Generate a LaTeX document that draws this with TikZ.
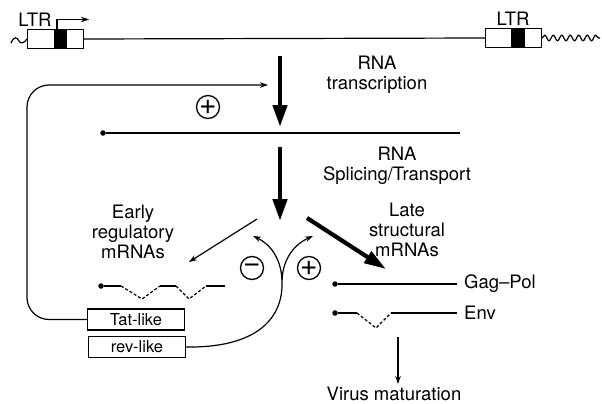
\documentclass[tikz,border=0pt]{standalone}
\usepackage{fontspec}
\setmainfont{TeX Gyre Heros}
\usetikzlibrary{arrows.meta,decorations.pathmorphing,calc}
\begin{document}
\begin{tikzpicture}[x=1pt,y=-1pt,
  thinline/.style={line width=1.2pt},
  thickarrow/.style={line width=4.5pt,-{Triangle[length=22pt,width=14pt]}},
  smallarrow/.style={line width=1.2pt,-{Stealth[length=8pt,width=5.5pt]}},
  lbl/.style={font=\fontsize{18.5}{20}\selectfont,align=center,inner sep=0pt},
  sign/.style={circle,draw,line width=1.3pt,minimum size=23pt,inner sep=0pt,font=\fontsize{30}{30}\selectfont},
  genebox/.style={draw,line width=1.2pt,minimum width=97pt,minimum height=21pt,inner sep=0pt,font=\fontsize{16.5}{18}\selectfont},
  ltrbox/.style={draw,line width=1.2pt,minimum width=56pt,minimum height=19pt,inner sep=0pt},
  dotstart/.style={circle,fill,inner sep=0pt,minimum size=5.5pt},
  spliced/.style={line width=1.2pt,dash pattern=on 3pt off 2pt}
]
\useasboundingbox (0,0) rectangle (602,404);

% genome with LTRs
\node[ltrbox] (ltrL) at (55.5,39) {};
\node[ltrbox] (ltrR) at (513.5,38) {};
\fill ($(ltrL.north west)+(27,0)$) rectangle ++(13,19);
\fill ($(ltrR.north west)+(26,0)$) rectangle ++(14,19);
\node[lbl,anchor=south] (ltrLt) at (35,27) {LTR};
\node[lbl,anchor=south] (ltrRt) at (513,26) {LTR};
\draw[thinline] (ltrL.east) -- (ltrR.west);
\coordinate (tl0) at (11,43);
\draw[thinline] (tl0) .. controls (14,36) and (17,37) .. (19,41) .. controls (21,45) and (25,42) .. (ltrL.west);
\coordinate (wz) at (600,38);
\draw[thinline,decorate,decoration={snake,segment length=8.5pt,amplitude=2.8pt}] (ltrR.east) -- (wz);
\coordinate (pr0) at (57,29.5);
\coordinate (pr1) at (89,19.5);
\draw[smallarrow] (pr0) |- (pr1);

% transcription
\coordinate (a1s) at (280,56);
\coordinate (a1e) at (280,127);
\draw[thickarrow] (a1s) -- (a1e);
\node[lbl] (tx) at (377,75) {RNA\\transcription};

% primary transcript
\node[dotstart] (rna0) at (103,133) {};
\coordinate (rna1) at (460,133);
\draw[thinline] (rna0) -- (rna1);

% splicing
\coordinate (a2s) at (280,147);
\coordinate (a2e) at (280,221);
\draw[thickarrow] (a2s) -- (a2e);
\node[lbl] (sp) at (397,166) {RNA\\Splicing/Transport};

% early / late
\node[lbl] (early) at (133,232) {Early\\regulatory\\mRNAs};
\node[lbl] (late) at (407,230) {Late\\structural\\mRNAs};
\coordinate (ea0) at (257,219);
\coordinate (ea1) at (189,262);
\draw[smallarrow] (ea0) -- (ea1);
\coordinate (la0) at (307,218);
\coordinate (la1) at (386,269);
\draw[line width=4.2pt,-{Triangle[length=22pt,width=13pt]}] (la0) -- (la1);

% early mRNA
\node[dotstart] (em0) at (101,286) {};
\draw[thinline] (em0) -- (121,286);
\draw[spliced] (121,286) -- (142,299) -- (160,286);
\draw[thinline] (160,286) -- (176,286);
\draw[spliced] (176,286) -- (189,299) -- (206,286);
\draw[thinline] (206,286) -- (225,286);

% late mRNAs
\node[dotstart] (gp0) at (335,284) {};
\coordinate (gp1) at (457,284);
\draw[thinline] (gp0) -- (gp1);
\node[lbl,anchor=west] (gag) at (464,284) {Gag–Pol};
\node[dotstart] (env0) at (335,313) {};
\draw[thinline] (env0) -- (357,313);
\draw[spliced] (357,313) -- (376,328) -- (391,313);
\coordinate (env1) at (457,313);
\draw[thinline] (391,313) -- (env1);
\node[lbl,anchor=west] (env) at (464,313) {Env};

% virus maturation
\coordinate (vm0) at (398,337);
\draw[smallarrow] (vm0) -- (398,384);
\node[lbl] (vm) at (394,394) {Virus maturation};

% regulatory proteins
\node[genebox] (tat) at (136,319.5) {Tat-like};
\node[genebox] (rev) at (137,347) {rev-like};

% feedback +
\coordinate (fb) at (268,85);
\draw[smallarrow,rounded corners=22pt] (tat.west) -| (27,85) -- (fb);
\node[sign] (plus1) at (208,107) {+};

% rev feedback
\coordinate (J) at (282,280);
\coordinate (lt) at (253,236);
\coordinate (rt) at (313,236);
\draw[thinline] (rev.east) .. controls (252,348) and (284,322) .. (J);
\draw[smallarrow] (J) .. controls (281,258) and (270,244) .. (lt);
\draw[smallarrow] (J) .. controls (283,258) and (295,244) .. (rt);
\node[sign] (minus) at (252,268) {−};
\node[sign] (plus2) at (309,268) {+};
\end{tikzpicture}
\end{document}
